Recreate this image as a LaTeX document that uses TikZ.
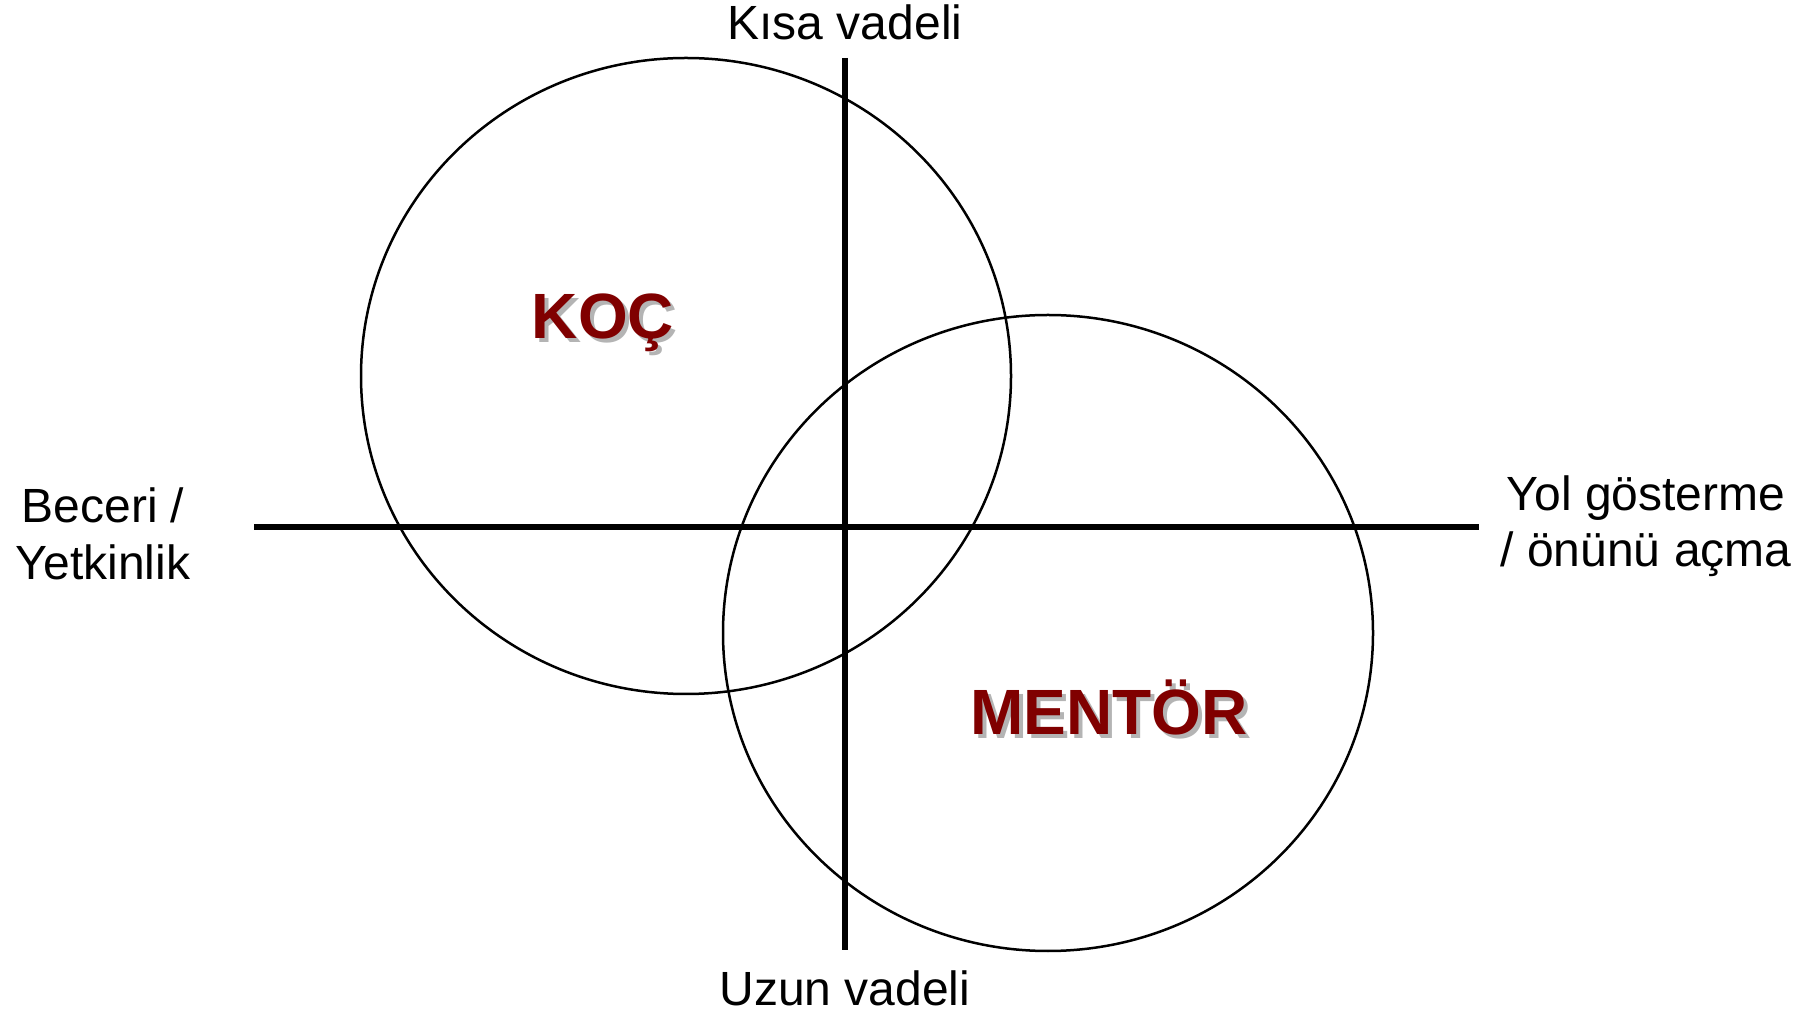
\documentclass[tikz,border=0pt]{standalone}
\usepackage{fontspec}
\setmainfont{Liberation Sans}
\usetikzlibrary{shapes.geometric}
\definecolor{darkred}{HTML}{800000}
\definecolor{shadowgray}{HTML}{B4B4B4}
\begin{document}
\begin{tikzpicture}[x=1pt,y=1pt,
  circ/.style={draw=black, line width=2.5pt, ellipse, minimum width=650pt, minimum height=636pt, inner sep=0pt},
  axis/.style={draw=black, line width=6pt},
  lbl/.style={anchor=base, inner sep=0pt, font=\fontsize{48}{48}\selectfont},
  big/.style={anchor=base, inner sep=0pt, font=\fontsize{64}{64}\selectfont\bfseries, text=darkred},
  bigshadow/.style={anchor=base, inner sep=0pt, font=\fontsize{64}{64}\selectfont\bfseries, text=shadowgray}]
\useasboundingbox (0,0) rectangle (1812,1015);
\fill[white] (0,0) rectangle (1812,1015);
% circles
\node[circ] (c1) at (686,639) {};
\node[circ] (c2) at (1048,382) {};
% axes
\coordinate (top) at (845,957);
\coordinate (bottom) at (845,65);
\coordinate (left) at (254,488);
\coordinate (right) at (1479,488);
\draw[axis] (top) -- (bottom);
\draw[axis] (left) -- (right);
% axis labels
\node[lbl] (kisa) at (845,975) {Kısa vadeli};
\node[lbl] (uzun) at (845,10) {Uzun vadeli};
\node[lbl] (beceri) at (103,492) {Beceri /};
\node[lbl] (yetk) at (103,435) {Yetkinlik};
\node[lbl] (yol) at (1646,504) {Yol gösterme};
\node[lbl] (onunu) at (1646,448) {/ önünü açma};
% titles with shadow
\node[bigshadow] (kocs) at (607,672) {KOÇ};
\node[big] (koc) at (603,676) {KOÇ};
\node[bigshadow] (mentors) at (1113,276) {MENTÖR};
\node[big] (mentor) at (1109,280) {MENTÖR};
\end{tikzpicture}
\end{document}
